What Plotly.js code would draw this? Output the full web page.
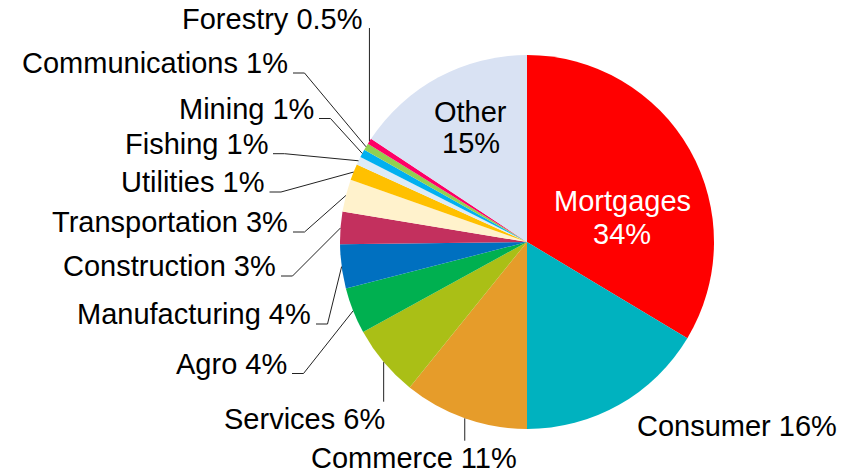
<!DOCTYPE html>
<html>
<head>
<meta charset="utf-8">
<script src="https://cdn.plot.ly/plotly-3.0.1.min.js"></script>
<style>html,body{margin:0;padding:0;background:#fff;}#chart{width:854px;height:474px;}</style>
</head>
<body>
<div id="chart"></div>
<script>
// ---- data ----
const categories = ['Mortgages','Consumer','Commerce','Services','Agro','Manufacturing','Construction','Transportation','Utilities','Fishing','Mining','Communications','Forestry','Other'];
const shares = [33.6,16.4,10.8,6.2,4.0,3.8,2.8,2.8,1.4,0.7,0.7,0.6,0.5,15.7];
const shareLabels = ['34%','16%','11%','6%','4%','4%','3%','3%','1%','1%','1%','1%','0.5%','15%'];
const sliceColors = ['#FF0000','#00B2BF','#E69C2A','#AABF16','#00B050','#0070C0','#C3305E','#FFF2CC','#FFC000','#DDEBF7','#00B0F0','#92D050','#FF0066','#D9E2F3'];

// ---- layout constants (pixels) ----
const W = 854, H = 474, CX = 527, CY = 242, R = 187;
const FONT = 'Liberation Sans, Arial, sans-serif';
const FS = 29;
const PAD = 2.5; // compensate annotation padding for right-anchored text
const labelLayout = {
  Mortgages:      {kind:'inside', x:622, y1:201, y2:233.5, color:'#FFFFFF'},
  Other:          {kind:'inside', x:471, y1:112.5, y2:143, color:'#000000'},
  Consumer:       {kind:'plain', x:736.5, y:426, anchor:'center'},
  Commerce:       {kind:'vline', x:414, y:457.5, anchor:'center', lineTo:440.7},
  Services:       {kind:'vline', x:384, y:419, anchor:'right', lineTo:401.7},
  Forestry:       {kind:'vline', x:362, y:19, anchor:'right', lineTo:28},
  Communications: {kind:'elbow', x:287, y:63},
  Mining:         {kind:'elbow', x:313, y:108.5},
  Fishing:        {kind:'elbow', x:267, y:143.7},
  Utilities:      {kind:'elbow', x:263.5, y:182},
  Transportation: {kind:'elbow', x:287, y:222},
  Construction:   {kind:'elbow', x:275, y:266},
  Manufacturing:  {kind:'elbow', x:310, y:314},
  Agro:           {kind:'elbow', x:286, y:363.5}
};

const px = x => x / W;
const py = y => 1 - y / H;

const total = shares.reduce((a,b)=>a+b,0);
let cum = 0;
const annotations = [];
const shapes = [];
const lineStyle = {color:'#222222', width:1};

categories.forEach((cat, i) => {
  const mid = (cum + shares[i] / 2) / total;
  cum += shares[i];
  const th = mid * 2 * Math.PI;
  const sx = CX + R * Math.sin(th);
  const sy = CY - R * Math.cos(th);
  const L = labelLayout[cat];
  if (L.kind === 'inside') {
    annotations.push({x:px(L.x), y:py(L.y1), xref:'paper', yref:'paper', text:cat, showarrow:false,
      xanchor:'center', yanchor:'middle', font:{family:FONT, size:FS, color:L.color}});
    annotations.push({x:px(L.x), y:py(L.y2), xref:'paper', yref:'paper', text:shareLabels[i], showarrow:false,
      xanchor:'center', yanchor:'middle', font:{family:FONT, size:FS, color:L.color}});
    return;
  }
  const anchor = L.anchor || 'right';
  const ax = anchor === 'right' ? L.x + PAD : L.x;
  annotations.push({x:px(ax), y:py(L.y), xref:'paper', yref:'paper', text:cat + ' ' + shareLabels[i], showarrow:false,
    xanchor: anchor, yanchor:'middle', font:{family:FONT, size:FS, color:'#000000'}});
  if (L.kind === 'vline') {
    shapes.push({type:'line', xref:'paper', yref:'paper', x0:px(sx), y0:py(sy), x1:px(sx), y1:py(L.lineTo), line:lineStyle});
  } else if (L.kind === 'elbow') {
    const ly = L.y + 10;
    const x0 = L.x + 6, x1 = L.x + 17.5;
    shapes.push({type:'line', xref:'paper', yref:'paper', x0:px(x0), y0:py(ly), x1:px(x1), y1:py(ly), line:lineStyle});
    shapes.push({type:'line', xref:'paper', yref:'paper', x0:px(x1), y0:py(ly), x1:px(sx), y1:py(sy), line:lineStyle});
  }
});

const trace = {
  type:'pie',
  labels: categories,
  values: shares,
  sort:false,
  direction:'clockwise',
  rotation:0,
  textinfo:'none',
  hoverinfo:'skip',
  marker:{colors:sliceColors, line:{width:0}},
  domain:{x:[(CX-R)/W, (CX+R)/W], y:[1-(CY+R)/H, 1-(CY-R)/H]},
  showlegend:false
};

const layout = {
  width:W, height:H,
  margin:{l:0,r:0,t:0,b:0},
  paper_bgcolor:'#FFFFFF',
  showlegend:false,
  annotations: annotations,
  shapes: shapes,
  font:{family:FONT}
};

Plotly.newPlot('chart', [trace], layout, {staticPlot:true, displayModeBar:false});
</script>
</body>
</html>
